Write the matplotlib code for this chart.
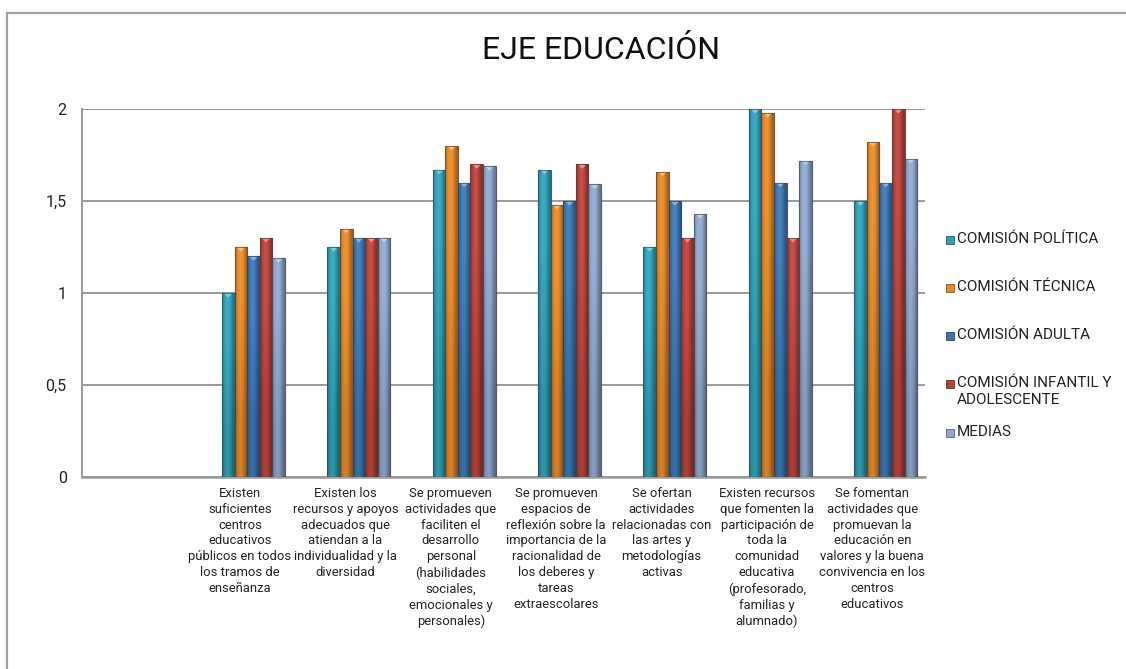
import numpy as np
import matplotlib
matplotlib.use("Agg")
import matplotlib.pyplot as plt
from matplotlib.lines import Line2D
from matplotlib.patches import Rectangle
from matplotlib.colors import to_rgb

plt.rcParams['font.family'] = ['Roboto', 'DejaVu Sans']

title = "EJE EDUCACIÓN"
categories = [
    "",
    "Existen\nsuficientes\ncentros\neducativos\npúblicos en todos\nlos tramos de\nenseñanza",
    "Existen los\nrecursos y apoyos\nadecuados que\natiendan a la\nindividualidad y la\ndiversidad",
    "Se promueven\nactividades que\nfaciliten el\ndesarrollo\npersonal\n(habilidades\nsociales,\nemocionales y\npersonales)",
    "Se promueven\nespacios de\nreflexión sobre la\nimportancia de la\nracionalidad de\nlos deberes y\ntareas\nextraescolares",
    "Se ofertan\nactividades\nrelacionadas con\nlas artes y\nmetodologías\nactivas",
    "Existen recursos\nque fomenten la\nparticipación de\ntoda la\ncomunidad\neducativa\n(profesorado,\nfamilias y\nalumnado)",
    "Se fomentan\nactividades que\npromuevan la\neducación en\nvalores y la buena\nconvivencia en los\ncentros\neducativos",
]
series_names = ["COMISIÓN POLÍTICA", "COMISIÓN TÉCNICA", "COMISIÓN ADULTA",
                "COMISIÓN INFANTIL Y\nADOLESCENTE", "MEDIAS"]
politica = [np.nan, 1.00, 1.25, 1.67, 1.67, 1.25, 2.00, 1.50]
tecnica  = [np.nan, 1.25, 1.35, 1.80, 1.48, 1.66, 1.98, 1.82]
adulta   = [np.nan, 1.20, 1.30, 1.60, 1.50, 1.50, 1.60, 1.60]
infantil = [np.nan, 1.30, 1.30, 1.70, 1.70, 1.30, 1.30, 2.00]
medias   = [np.nan, 1.19, 1.30, 1.69, 1.59, 1.43, 1.72, 1.73]
series = [politica, tecnica, adulta, infantil, medias]
colors = ["#2FA3BA", "#E88A27", "#3A78B5", "#BC433C", "#8FA9D0"]
yticks = [0, 0.5, 1, 1.5, 2]
ytick_labels = ["0", "0,5", "1", "1,5", "2"]

W, H = 1126, 669
fig = plt.figure(figsize=(W / 100, H / 100), dpi=100)
ax = fig.add_axes([82 / W, 1 - 477 / H, (925 - 82) / W, (477 - 109) / H])

x = np.arange(len(categories))
bw = 0.1195
depth_shift = 0.127

def shade(c, f):
    r, g, b = to_rgb(c)
    if f < 1:
        return (r * f, g * f, b * f)
    return (r + (1 - r) * (f - 1), g + (1 - g) * (f - 1), b + (1 - b) * (f - 1))

for i, (vals, col) in enumerate(zip(series, colors)):
    pos = x + depth_shift + (i - 2) * bw
    bars = ax.bar(pos, vals, width=bw, color=col, edgecolor=(0.25, 0.25, 0.25, 0.55),
                  linewidth=0.8, zorder=3)
    n = 32
    t = np.linspace(0, 1, n)
    prof = 0.78 + 0.32 * np.sin(np.pi * np.clip(t * 1.15, 0, 1)) - 0.05 * t
    for b in bars:
        h = b.get_height()
        if not np.isfinite(h) or h <= 0:
            continue
        x0 = b.get_x()
        w = b.get_width()
        img = np.zeros((2, n, 3))
        for k in range(n):
            img[0, k] = shade(col, prof[k])
            img[1, k] = shade(col, prof[k] * 0.86)
        im = ax.imshow(img, extent=[x0, x0 + w, 0, h], aspect='auto',
                       interpolation='bilinear', zorder=3.5)
        im.set_clip_path(b)
        tri_h = 0.025
        ax.fill([x0 + w * 0.2, x0 + w * 0.8, x0 + w * 0.5],
                [h - 0.004, h - 0.004, h - tri_h], color=shade(col, 1.45), zorder=4, lw=0)
        ax.add_patch(Rectangle((x0, 0), w, h, fill=False,
                               edgecolor=(0.25, 0.25, 0.25, 0.55), lw=0.8, zorder=4.5))

ax.set_xlim(-0.5, len(categories) - 0.5)
ax.set_ylim(0, 2)
ax.set_yticks(yticks)
ax.set_yticklabels(ytick_labels, fontsize=11.5, color="#222222")
ax.set_xticks(x)
ax.set_xticklabels(categories, fontsize=9.4, color="#222222", linespacing=1.29)
ax.tick_params(axis='both', length=0)
ax.tick_params(axis='y', pad=11)
ax.tick_params(axis='x', pad=7)
ax.yaxis.grid(True, color="#9A9A9A", linewidth=1.4, zorder=0)
ax.set_axisbelow(True)
for s in ['top', 'right']:
    ax.spines[s].set_visible(False)
ax.spines['left'].set_color("#9A9A9A")
ax.spines['left'].set_linewidth(1.4)
ax.spines['bottom'].set_color("#9A9A9A")
ax.spines['bottom'].set_linewidth(1.8)

# title
fig.text(601 / W, 1 - 59 / H, title, ha='center', va='baseline', fontsize=23,
         color="#111111", fontweight='normal')

# chart frame
fig.add_artist(Line2D([7 / W, 7 / W], [0, 1 - 12.5 / H], color="#A0A0A0", lw=1.6))
fig.add_artist(Line2D([7 / W, 1], [1 - 12.5 / H, 1 - 12.5 / H], color="#A0A0A0", lw=1.6))

# legend (manual layout)
leg_y = [240, 288, 336, 384, 433]
for name, col, yy in zip(series_names, colors, leg_y):
    fig.add_artist(Rectangle((946 / W, 1 - (yy + 4) / H), 8 / W, 8 / H,
                             facecolor=col, edgecolor=shade(col, 0.6), lw=0.6))
    fig.text(957 / W, 1 - (yy - 8) / H, name, ha='left', va='top', fontsize=11,
             color="#222222", linespacing=1.25)

fig.savefig("out.png", dpi=100)
